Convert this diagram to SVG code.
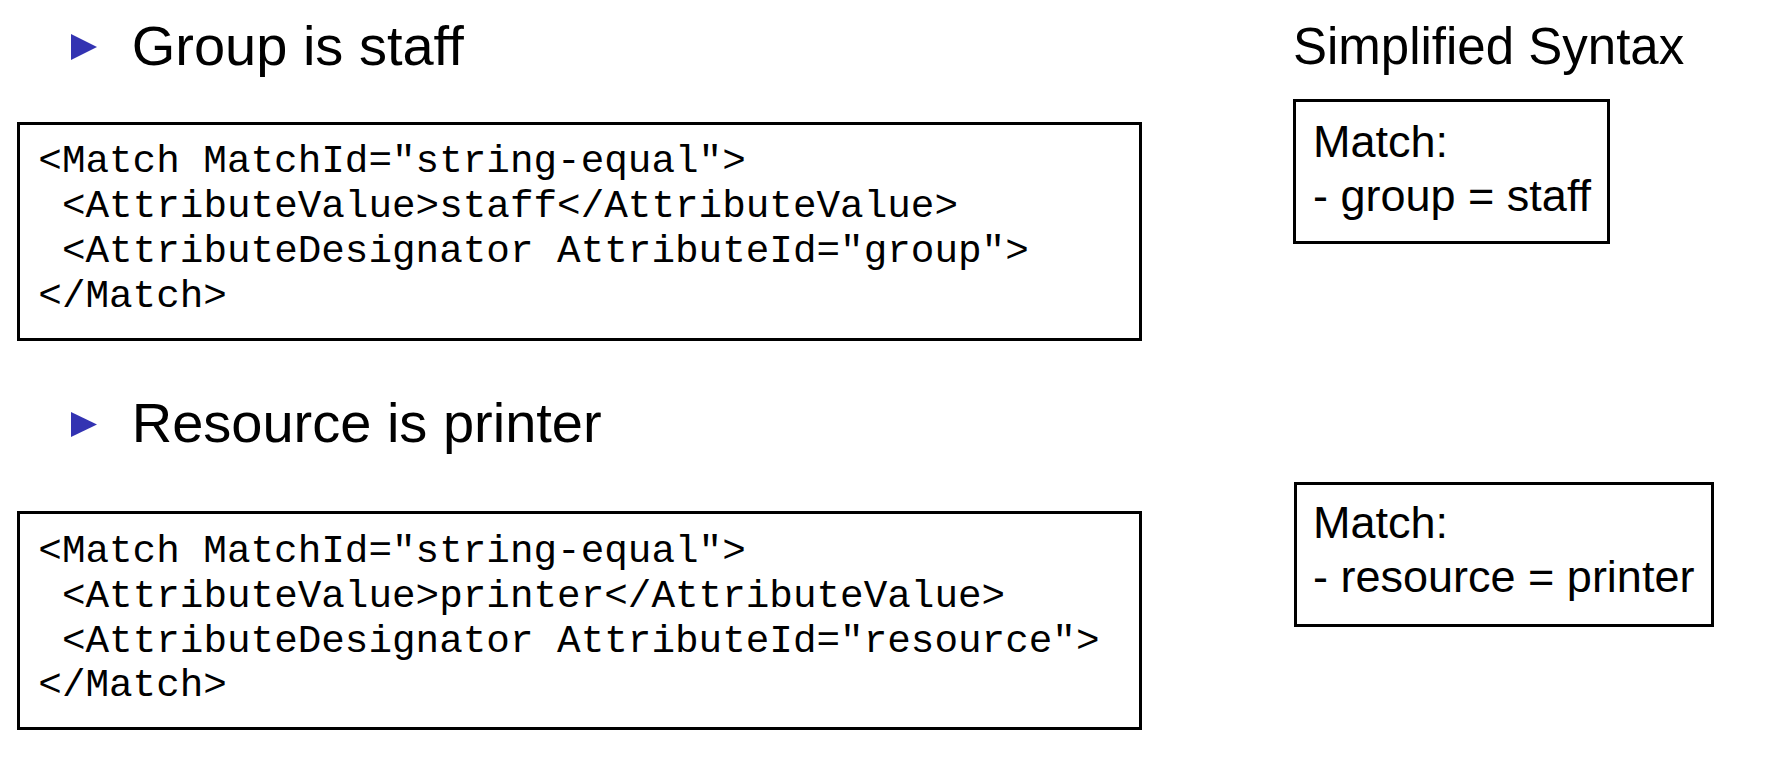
<svg xmlns="http://www.w3.org/2000/svg" width="1782" height="758" viewBox="0 0 1782 758">
<style>
.title{font-family:"Liberation Sans",Arial,sans-serif;font-size:56px;fill:#000}
.head{font-family:"Liberation Sans",Arial,sans-serif;font-size:51px;fill:#000}
.simple{font-family:"Liberation Sans",Arial,sans-serif;font-size:45px;fill:#000}
.code{font-family:"Liberation Mono","Courier New",monospace;font-size:39.3px;fill:#000}
.box{fill:#fff;stroke:#000;stroke-width:3}
.bullet{fill:#3333b2}
</style>
<rect width="1782" height="758" fill="#fff"/>
<g id="bullet-group">
<polygon class="bullet" points="71,34 97,47 71,60"/>
<text class="title" x="131.7" y="64.5">Group is staff</text>
</g>
<g id="code-group">
<rect class="box" x="18.5" y="123.5" width="1122" height="216"/>
<text class="code" x="38.3" y="172">&lt;Match MatchId="string-equal"&gt;</text>
<text class="code" x="61.9" y="216.8">&lt;AttributeValue&gt;staff&lt;/AttributeValue&gt;</text>
<text class="code" x="61.9" y="261.6">&lt;AttributeDesignator AttributeId="group"&gt;</text>
<text class="code" x="38.3" y="306.5">&lt;/Match&gt;</text>
</g>
<g id="bullet-resource">
<polygon class="bullet" points="71,412 97,424.5 71,437"/>
<text class="title" x="131.7" y="441.7">Resource is printer</text>
</g>
<g id="code-resource">
<rect class="box" x="18.5" y="512.5" width="1122" height="216"/>
<text class="code" x="38.3" y="562">&lt;Match MatchId="string-equal"&gt;</text>
<text class="code" x="61.9" y="606.8">&lt;AttributeValue&gt;printer&lt;/AttributeValue&gt;</text>
<text class="code" x="61.9" y="651.6">&lt;AttributeDesignator AttributeId="resource"&gt;</text>
<text class="code" x="38.3" y="696.4">&lt;/Match&gt;</text>
</g>
<g id="heading-simplified">
<text class="head" x="1293" y="63.5">Simplified Syntax</text>
</g>
<g id="simple-group">
<rect class="box" x="1294.5" y="100.5" width="314" height="142"/>
<text class="simple" x="1313" y="157">Match:</text>
<text class="simple" x="1313" y="211">- group = staff</text>
</g>
<g id="simple-resource">
<rect class="box" x="1295.5" y="483.5" width="417" height="142"/>
<text class="simple" x="1313" y="538">Match:</text>
<text class="simple" x="1313" y="592">- resource = printer</text>
</g>
<g id="connectors"></g>
</svg>
